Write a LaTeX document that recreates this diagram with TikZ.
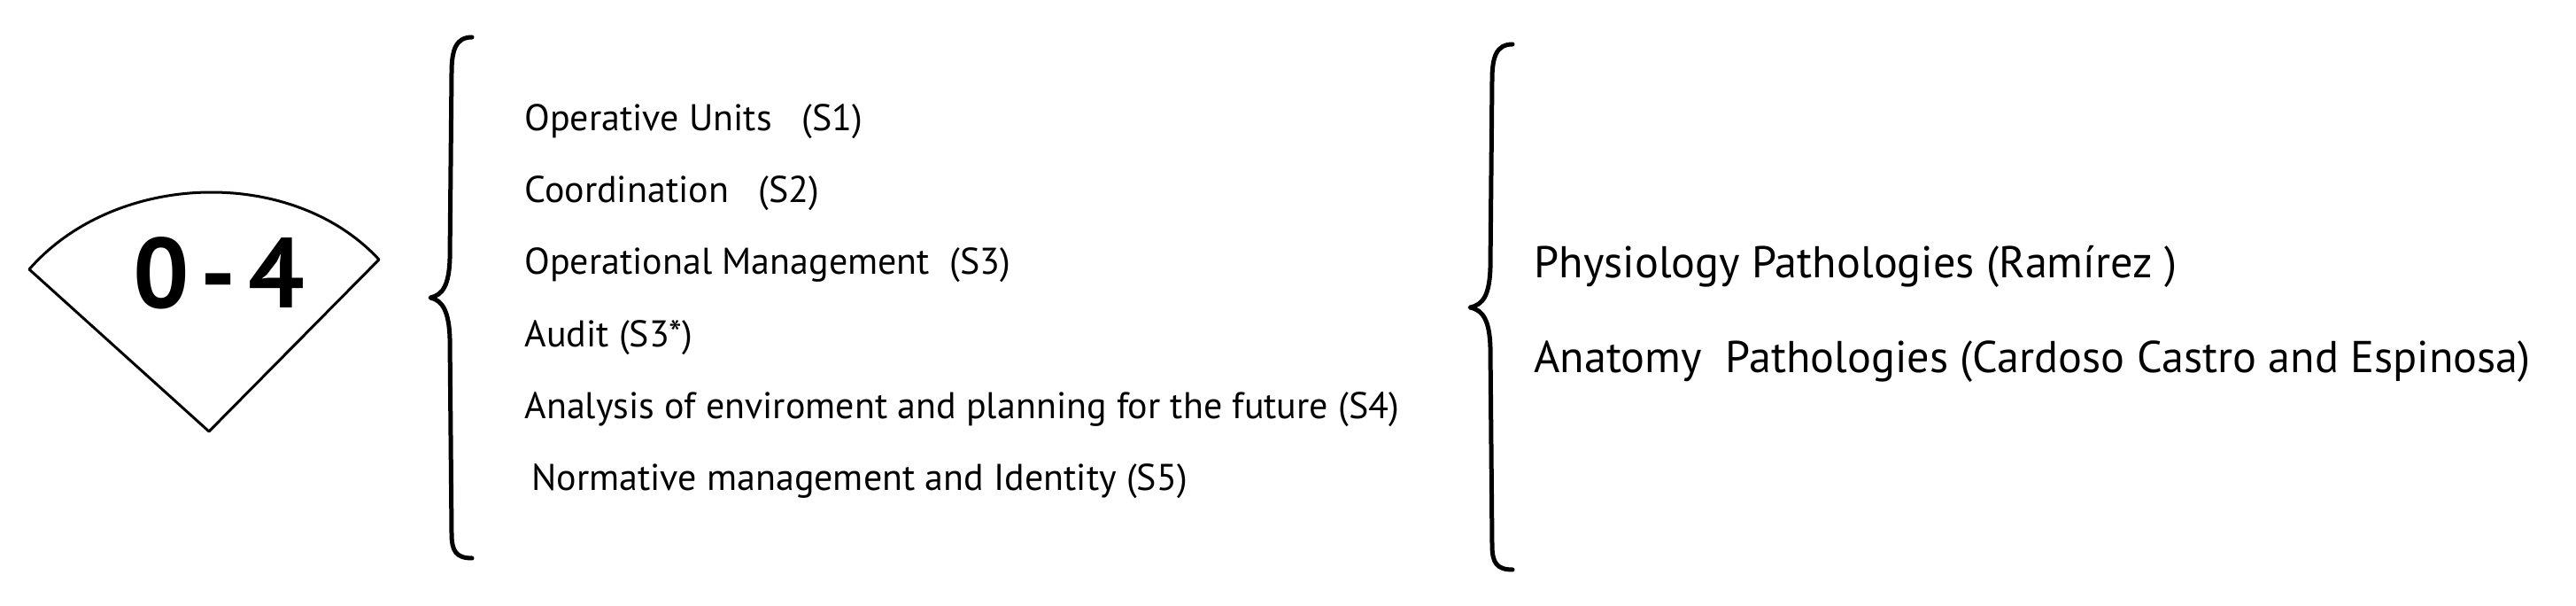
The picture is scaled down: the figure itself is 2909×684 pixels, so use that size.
\documentclass[tikz,border=0pt]{standalone}
\usepackage{fontspec}
\setmainfont{PT Sans}
\tikzset{every picture/.style={line width=0.75pt}}

\begin{document}
\begin{tikzpicture}[x=0.75pt,y=0.75pt,yscale=-1,xscale=1,
	item/.style={anchor=base west,inner sep=0pt,font=\fontsize{31.5}{38}\selectfont},
	cause/.style={anchor=base west,inner sep=0pt,font=\fontsize{37.7}{45}\selectfont},
	brace/.style={line width=3.75pt,line cap=round,line join=round}]
	\useasboundingbox (0,0) rectangle (2909,684);

	%Shape: Sector
	\draw  [line width=2.25pt,line join=round] (236,487) -- (33,304) .. controls (130,193) and (330,187) .. (428,293) -- cycle ;
	% Text Node
	\node [font=\fontsize{84}{90}\selectfont\bfseries,inner sep=0pt] (range) at (247,308) {0\kern10pt-\kern10pt4};

	%Shape: Brace
	\draw  [brace] (533,42) .. controls (515,42) and (510,56) .. (510,82) -- (508,292) .. controls (507,322) and (500,333) .. (486,336) .. controls (500,339) and (507,352) .. (508,382) -- (510,602) .. controls (510,622) and (515,630) .. (533,630) ;
	%Shape: Brace
	\draw  [brace] (1708,50) .. controls (1690,50) and (1685,64) .. (1685,90) -- (1683,302) .. controls (1682,333) and (1675,344) .. (1660,347) .. controls (1675,350) and (1682,362) .. (1683,392) -- (1685,615) .. controls (1685,635) and (1690,643) .. (1708,643) ;

	% Text Node
	\node [item] (s1) at (592,148) {Operative Units\ \ \ (S1)};
	% Text Node
	\node [item] (s2) at (592,229) {Coordination\ \ \ (S2)};
	% Text Node
	\node [item] (s3) at (592,310) {Operational Management\ \ (S3)};
	% Text Node
	\node [item] (s3a) at (592,391) {Audit (S3*)};
	% Text Node
	\node [item] (s4) at (592,472) {Analysis of enviroment and planning for the future (S4)};
	% Text Node
	\node [item] (s5) at (600,553) {Normative management and Identity (S5)};

	% Text Node
	\node [cause] (phys) at (1732,314) {Physiology Pathologies (Ramírez )};
	% Text Node
	\node [cause] (anat) at (1732,420) {Anatomy\ \ Pathologies (Cardoso Castro and Espinosa)};

\end{tikzpicture}
\end{document}
